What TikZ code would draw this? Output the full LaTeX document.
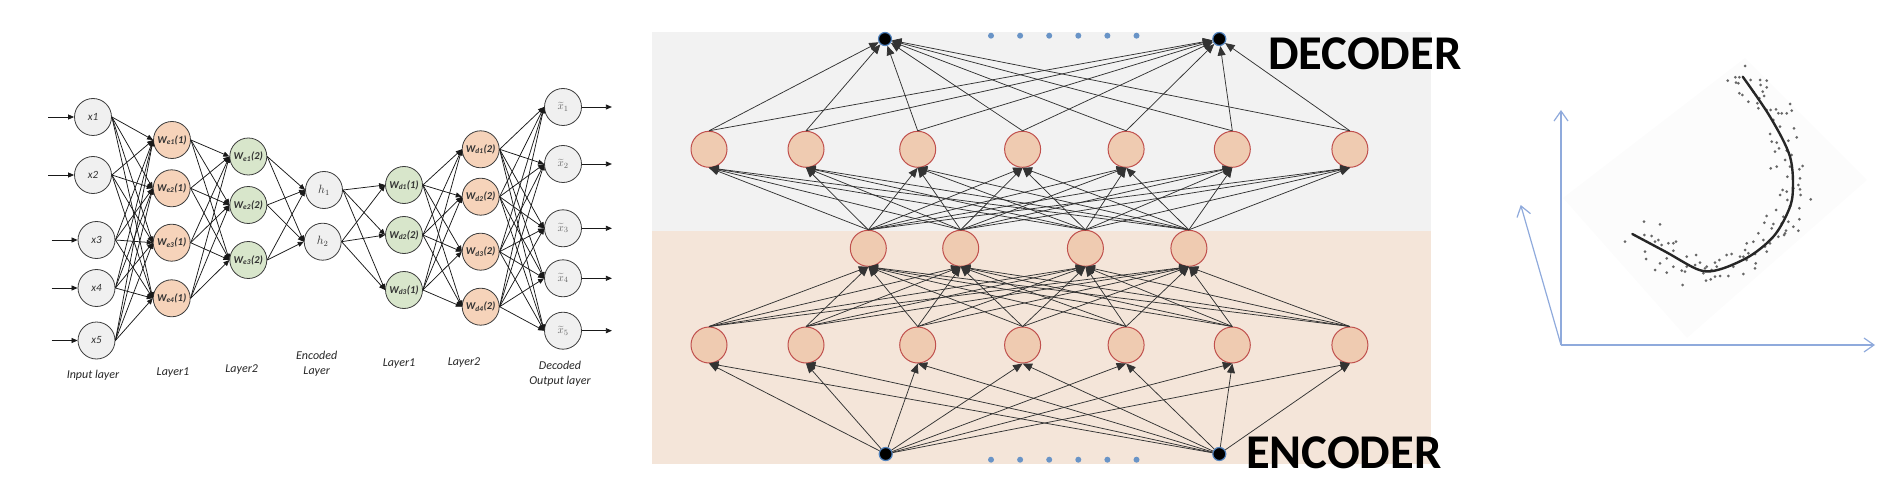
\documentclass[tikz,border=0pt]{standalone}
\usepackage{fontspec}
\setmainfont{Carlito}
\usetikzlibrary{arrows.meta}
\definecolor{nodegray}{HTML}{F0F0F0}
\definecolor{nodeline}{HTML}{3C3C3C}
\definecolor{peach}{HTML}{F6D3BA}
\definecolor{sage}{HTML}{D8E6CB}
\definecolor{decbg}{HTML}{F2F2F2}
\definecolor{encbg}{HTML}{F4E5D9}
\definecolor{cellfill}{HTML}{EFCBB1}
\definecolor{cellline}{HTML}{C0504D}
\definecolor{dotblue}{HTML}{4F81BD}
\definecolor{axisblue}{HTML}{8FAADC}
\tikzset{
  neuron/.style={circle, draw=nodeline, line width=0.8pt, minimum size=37pt, inner sep=0pt,
    text=black!80, font=\itshape\fontsize{11}{11}\selectfont},
  inode/.style={neuron, fill=nodegray},
  wnode/.style={neuron, font=\bfseries\itshape\fontsize{10.5}{10.5}\selectfont},
  wire/.style={-{Triangle[length=6pt,width=5pt]}, line width=0.75pt, black!90},
  layerlabel/.style={font=\itshape\fontsize{12}{15}\selectfont, text=black!85, align=center},
  cell/.style={circle, draw=cellline, line width=1pt, fill=cellfill, minimum size=36pt, inner sep=0pt},
  enddot/.style={circle, fill=black, draw=dotblue, line width=1.2pt, minimum size=13pt, inner sep=0pt},
  smalldot/.style={circle, fill=dotblue!85, minimum size=6pt, inner sep=0pt},
  conn/.style={-{Triangle[length=9.5pt,width=8pt]}, line width=0.75pt, black!80},
  axisline/.style={-{Straight Barb[length=10pt,width=14pt]}, axisblue, line width=1.2pt},
  bigword/.style={anchor=base west, inner sep=0pt, font=\bfseries\fontsize{48.5}{48.5}\selectfont}
}
\begin{document}
\begin{tikzpicture}[x=1pt,y=-1pt]
\useasboundingbox (0,0) rectangle (1884,489);
% left: autoencoder
\foreach \y [count=\k] in {117,175,240,288,340.5}
  \node[inode] (inp\k) at ({\k<3 ? 93 : 96.5},\y) {x\k};
\node[wnode, fill=peach] (encA1) at (172,140) {W\textsubscript{e1}(1)};
\node[wnode, fill=peach] (encA2) at (171.7,188.3) {W\textsubscript{e2}(1)};
\node[wnode, fill=peach] (encA3) at (171.7,242.7) {W\textsubscript{e3}(1)};
\node[wnode, fill=peach] (encA4) at (171.7,298.3) {W\textsubscript{e4}(1)};
\node[wnode, fill=sage] (encB1) at (248.3,156.5) {W\textsubscript{e1}(2)};
\node[wnode, fill=sage] (encB2) at (248.3,205) {W\textsubscript{e2}(2)};
\node[wnode, fill=sage] (encB3) at (248.3,260) {W\textsubscript{e3}(2)};
\node[inode, font=\fontsize{12}{12}\selectfont] (hid1) at (324,190) {$h_1$};
\node[inode, font=\fontsize{12}{12}\selectfont] (hid2) at (322.7,241.7) {$h_2$};
\node[wnode, fill=sage] (decA1) at (404,185) {W\textsubscript{d1}(1)};
\node[wnode, fill=sage] (decA2) at (404,235) {W\textsubscript{d2}(2)};
\node[wnode, fill=sage] (decA3) at (404,290) {W\textsubscript{d3}(1)};
\node[wnode, fill=peach] (decB1) at (480.7,149.3) {W\textsubscript{d1}(2)};
\node[wnode, fill=peach] (decB2) at (480.7,196.7) {W\textsubscript{d2}(2)};
\node[wnode, fill=peach] (decB3) at (480.7,251.7) {W\textsubscript{d3}(2)};
\node[wnode, fill=peach] (decB4) at (480.7,306.7) {W\textsubscript{d4}(2)};
\foreach \y [count=\k] in {107,164,228.3,278.3,330.7}
  \node[inode, text=black!60, font=\fontsize{11}{11}\selectfont] (rec\k) at (563,\y) {$\widetilde{x}_{\k}$};
\foreach \i in {1,...,5} \foreach \j in {1,...,4} \draw[wire] (inp\i.east) -- (encA\j.west);
\foreach \i in {1,...,4} \foreach \j in {1,...,3} \draw[wire] (encA\i.east) -- (encB\j.west);
\foreach \i in {1,...,3} \foreach \j in {1,2} \draw[wire] (encB\i.east) -- (hid\j.west);
\foreach \i in {1,2} \foreach \j in {1,...,3} \draw[wire] (hid\i.east) -- (decA\j.west);
\foreach \i in {1,...,3} \foreach \j in {1,...,4} \draw[wire] (decA\i.east) -- (decB\j.west);
\foreach \i in {1,...,4} \foreach \j in {1,...,5} \draw[wire] (decB\i.east) -- (rec\j.west);
\foreach \k in {1,...,5} {
  \coordinate (src\k) at ([xshift=-26pt]inp\k.west);
  \coordinate (dst\k) at ([xshift=30pt]rec\k.east);
  \draw[wire] (src\k) -- (inp\k.west);
  \draw[wire] (rec\k.east) -- (dst\k);
}
\node[layerlabel] (labin) at (93,375) {Input layer};
\node[layerlabel] (labea) at (173,373) {Layer1};
\node[layerlabel] (labeb) at (241.7,370) {Layer2};
\node[layerlabel] (labh) at (316.7,364) {Encoded\\Layer};
\node[layerlabel] (labda) at (399,364) {Layer1};
\node[layerlabel] (labdb) at (464,362.7) {Layer2};
\node[layerlabel] (labout) at (560,374) {Decoded\\Output layer};
% middle: encoder / decoder
\fill[decbg] (651.5,31.7) rectangle (1430.7,230.7);
\fill[encbg] (651.5,230.7) rectangle (1430.7,464);
\foreach \x [count=\k] in {709,806,917.7,1022.6,1126.1,1232.3,1349.9} {
  \node[cell] (top\k) at (\x,149.3) {};
  \node[cell] (low\k) at (\x,345) {};
}
\foreach \x [count=\k] in {868.3,960.7,1085.4,1188.9}
  \node[cell] (mid\k) at (\x,248.3) {};
\node[enddot] (outdot1) at (885,39) {};
\node[enddot] (outdot2) at (1219.3,39) {};
\node[enddot] (indot1) at (885.7,454) {};
\node[enddot] (indot2) at (1219.3,454) {};
\foreach \x [count=\k] in {991,1020.1,1049.2,1078.3,1107.4,1136.5} {
  \node[smalldot] (gapt\k) at (\x,35.7) {};
  \node[smalldot] (gapb\k) at (\x,459.7) {};
}
\foreach \i in {1,2} \foreach \j in {1,...,7} \draw[conn] (indot\i) -- (low\j.south);
\foreach \i in {1,...,7} \foreach \j in {1,...,4} \draw[conn] (low\i.north) -- (mid\j.south);
\foreach \i in {1,...,4} \foreach \j in {1,...,7} \draw[conn] (mid\i.north) -- (top\j.south);
\foreach \i in {1,...,7} \foreach \j in {1,2} \draw[conn] (top\i.north) -- (outdot\j);
\node[bigword] (decword) at (1268,70) {DECODER};
\node[bigword] (encword) at (1246,468.3) {ENCODER};
% right: principal curve
\fill[black!1] (1563,198) -- (1745,58) -- (1867,180) -- (1687,338) -- cycle;
\coordinate (O) at (1561,345);
\coordinate (yend) at (1561,110);
\coordinate (xend) at (1875,345);
\coordinate (zend) at (1520.7,205);
\draw[axisline] (O) -- (yend);
\draw[axisline] (O) -- (xend);
\draw[axisline] (O) -- (zend);
\foreach \a/\b in {735/18,683/62,706/52,718/52,708/68,715/70,752/60,780/60,800/62,782/75,800/82,718/100,
  727/105,745/125,788/95,792/108,778/115,772/130,775/145,800/150,812/150,828/148,835/160,870/132,
  875/152,860/160,845/160,882/205,890/232,865/242,830/248,810/222,815/245,837/265,825/275,860/272,
  875/285,908/318,898/328,870/320,812/325,830/320,900/355,895/375,880/385,900/388,860/395,848/390,
  840/405,862/420,902/405,870/440,898/445,932/418,828/450,845/490,820/492,800/468,793/488,865/485,
  898/478,880/500,858/512,852/525,895/512,855/520,835/530,810/550,795/560,800/575,775/520,760/545,
  740/550,735/570,730/590,745/580,765/582,720/590,695/582,680/585,658/600,645/608,635/630,615/625,
  600/608,588/585,560/590,560/620,555/635,545/632,520/620,500/638,465/630,480/610,500/595,520/572,
  520/550,528/545,505/550,485/555,475/540,465/545,455/528,433/525,432/485,480/493,375/545,435/575,
  438/597,548/675,618/662,632/658,645/650,660/648,685/648,730/642,767/610,765/625,700/620,650/620,
  620/620,585/615,610/640,740/600,790/540,815/505,850/470,862/350,855/300,840/200,820/180,760/95}
  \fill[black!60] ({1500+\a/3},{60+\b/3}) circle[radius=1.5];
\draw[line width=2.4pt, black!85, line cap=round] plot[smooth, tension=0.55] coordinates
  {(1632.3,234) (1666,252) (1699.3,270) (1720,269.3) (1750,256) (1773.3,236.7) (1787,214)
   (1792.7,193.3) (1790,156.7) (1770,116.7) (1742.7,76.7)};
\end{tikzpicture}
\end{document}
